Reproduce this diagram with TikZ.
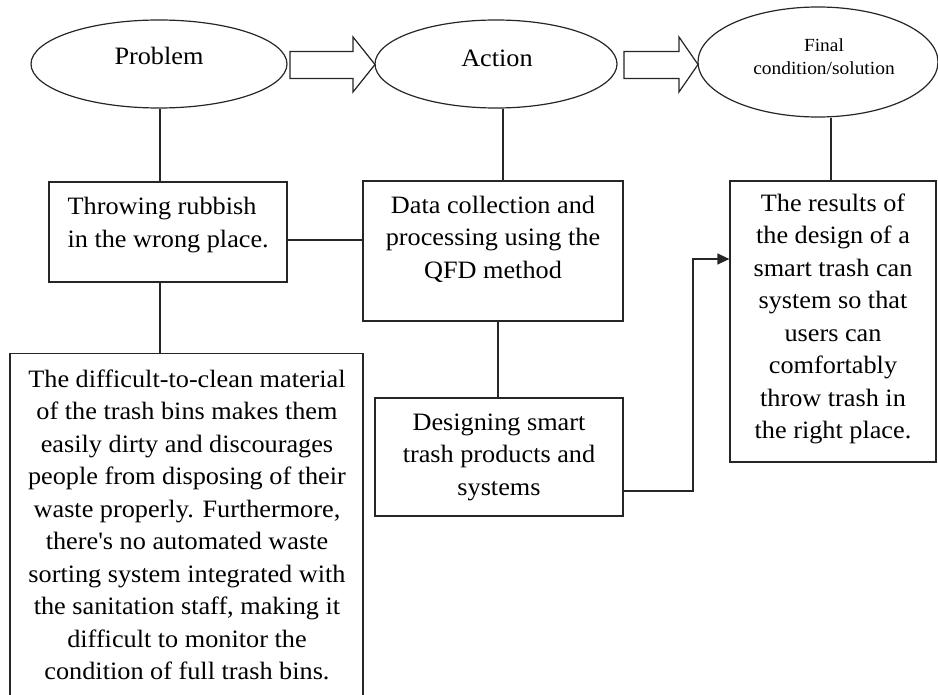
\documentclass[tikz,border=0pt]{standalone}
\usepackage{fontspec}
\setmainfont{Liberation Serif}[FakeStretch=1.05]
\newcommand{\straightapos}{{\addfontfeature{Ligatures=TeXOff}'}}
\usetikzlibrary{shapes.geometric,arrows.meta}
\begin{document}
\begin{tikzpicture}[x=1pt,y=-1pt,
  line width=1.2pt,
  oval/.style={ellipse,draw=black!85,line width=1.2pt,inner sep=0pt},
  box/.style={rectangle,draw=black!85,line width=1.2pt,inner sep=0pt},
  txt/.style={inner sep=0pt,align=center,font=\fontsize{25}{32.5}\selectfont},
  smalltxt/.style={inner sep=0pt,align=center,font=\fontsize{18.5}{23}\selectfont},
  link/.style={draw=black!85,line width=1.2pt},
  blockarrow/.style={draw=black!85,line width=1.2pt,line join=miter,fill=white}
]
\useasboundingbox (0,0) rectangle (938,695);
\clip (0,0) rectangle (938,695);

% ellipses
\node[oval,minimum width=256pt,minimum height=88pt] (prob) at (159,64) {};
\node[oval,minimum width=242pt,minimum height=88pt] (act) at (496,64) {};
\node[oval,minimum width=240pt,minimum height=110pt] (fin) at (818,62) {};
\node[txt] (probt) at (159,56) {Problem};
\node[txt] (actt) at (497,58) {Action};
\node[smalltxt] (fint) at (824,57) {Final\\condition/solution};

% block arrows
\draw[blockarrow] (290,51.5) -- (353,51.5) -- (353,37) -- (375,64.5) -- (353,92) -- (353,78.5) -- (290,78.5) -- cycle;
\draw[blockarrow] (624,51.5) -- (679,51.5) -- (679,37) -- (698,64.5) -- (679,92) -- (679,78.5) -- (624,78.5) -- cycle;

% boxes
\node[box,minimum width=238pt,minimum height=100pt] (throw) at (168,232) {};
\node[txt,align=left,anchor=west] (throwt) at (67,225) {Throwing rubbish\\in the wrong place.};

\node[box,minimum width=260pt,minimum height=140pt] (data) at (493,251) {};
\node[txt] (datat) at (493,239) {Data collection and\\processing using the\\QFD method};

\node[box,minimum width=248pt,minimum height=118pt] (des) at (499,457) {};
\node[txt] (dest) at (499,457) {Designing smart\\trash products and\\systems};

\node[box,minimum width=206pt,minimum height=281pt] (res) at (833,321.5) {};
\node[txt] (rest) at (833,319) {The results of\\the design of a\\smart trash can\\system so that\\users can\\comfortably\\throw trash in\\the right place.};

\node[box,anchor=north,minimum width=353pt,minimum height=380pt] (diff) at (186.5,353) {};
\node[txt] (difft) at (187,525) {The difficult-to-clean material\\of the trash bins makes them\\easily dirty and discourages\\people from disposing of their\\waste properly. Furthermore,\\there\straightapos s no automated waste\\sorting system integrated with\\the sanitation staff, making it\\difficult to monitor the\\condition of full trash bins.};

% connectors
\coordinate (xp) at (160,0);
\coordinate (xa) at (503,0);
\coordinate (xd) at (498,0);
\coordinate (xf) at (831,0);
\coordinate (yt) at (0,240);
\coordinate (j) at (693,491);
\coordinate (k) at (693,259);

\draw[link] (prob.south -| xp) -- (throw.north -| xp);
\draw[link] (throw.east |- yt) -- (data.west |- yt);
\draw[link] (throw.south -| xp) -- (diff.north -| xp);
\draw[link] (act.south -| xa) -- (data.north -| xa);
\draw[link] (data.south -| xd) -- (des.north -| xd);
\draw[link] (fin.south -| xf) -- (res.north -| xf);
\draw[link,-{Triangle[length=12pt,width=11pt]}] (des.east |- j) -- (j) -- (k) -- (res.west |- k);
\end{tikzpicture}
\end{document}
